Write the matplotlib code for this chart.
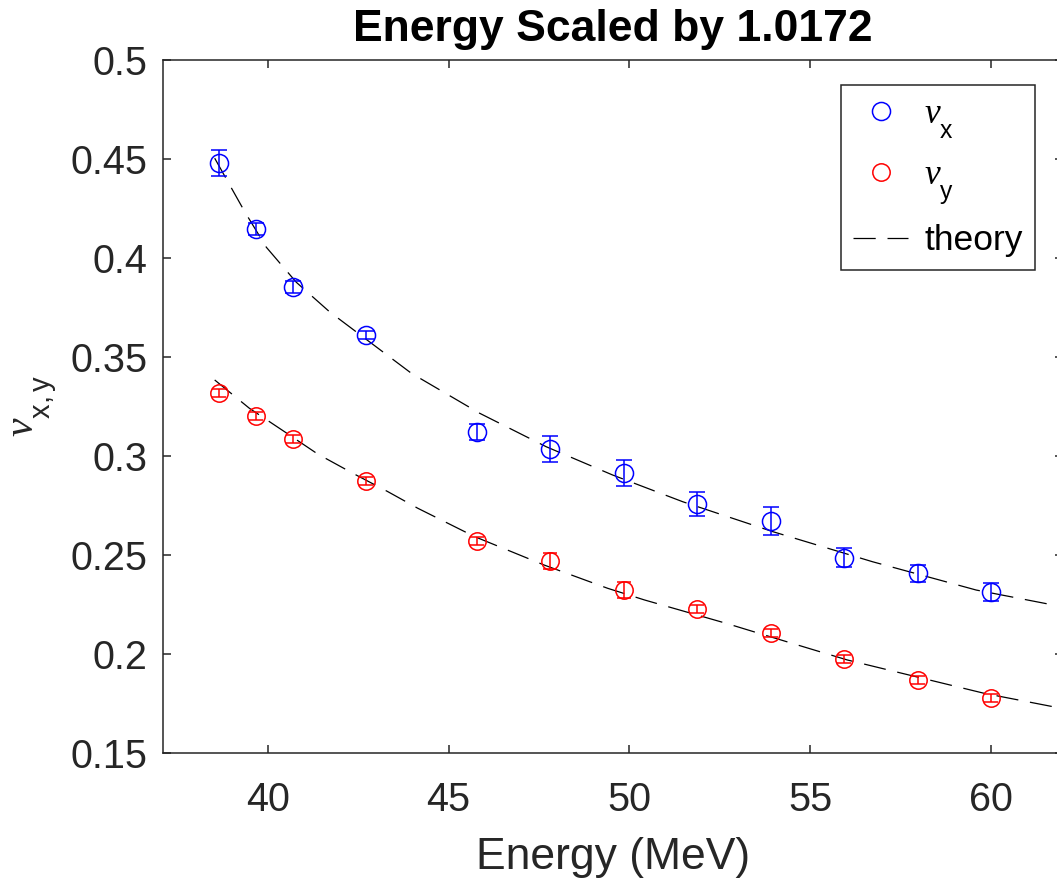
import matplotlib
matplotlib.use('Agg')
import matplotlib.pyplot as plt
from matplotlib import _mathtext

# measured tunes, beam energy scaled by a common factor
scale = 1.0172
energy_raw = [38, 39, 40, 42, 45, 47, 49, 51, 53, 55, 57, 59]
nu_x = [0.448, 0.4146, 0.3854, 0.3612, 0.3121, 0.3035, 0.2916, 0.2758, 0.2672, 0.2486, 0.2409, 0.2313]
nu_x_err = [0.0066, 0.003, 0.003, 0.002, 0.004, 0.0066, 0.0066, 0.006, 0.007, 0.0048, 0.0043, 0.0045]
nu_y = [0.3318, 0.3202, 0.3086, 0.2875, 0.2571, 0.2470, 0.2323, 0.2227, 0.2106, 0.1975, 0.1869, 0.1778]
nu_y_err = [0.0018, 0.002, 0.002, 0.002, 0.002, 0.004, 0.004, 0.002, 0.002, 0.002, 0.002, 0.002]

# model curves
theory_x_energy = [38.53, 39.36, 39.96, 40.79, 41.71, 43.97, 45.86, 47.70, 49.54, 51.48, 53.97, 56.73, 59.60, 61.49, 62.0]
theory_x_nu = [0.4504, 0.4234, 0.4054, 0.3877, 0.3728, 0.3418, 0.3216, 0.3047, 0.2904, 0.2769, 0.2618, 0.2466, 0.2323, 0.2256, 0.2238]
theory_y_energy = [38.53, 39.49, 40.46, 41.38, 42.35, 43.32, 44.15, 45.72, 47.65, 49.40, 50.42, 52.68, 53.65, 55.12, 56.03, 57.94, 59.83, 61.72, 62.0]
theory_y_nu = [0.3384, 0.3241, 0.3123, 0.3010, 0.2913, 0.2820, 0.2736, 0.2593, 0.2449, 0.2332, 0.2273, 0.2155, 0.2101, 0.2020, 0.1970, 0.1885, 0.1801, 0.1734, 0.1724]

energy = [e * scale for e in energy_raw]

plt.rcParams['font.family'] = 'Liberation Sans'
plt.rcParams['mathtext.fontset'] = 'custom'
plt.rcParams['mathtext.rm'] = 'Liberation Sans'
plt.rcParams['mathtext.it'] = 'Liberation Serif:italic'
plt.rcParams['lines.scale_dashes'] = False
# drop subscripts well below the baseline, TeX-interpreter style
_mathtext.FontConstantsBase.sub1 = 0.9

grey = '#262626'

fig = plt.figure(figsize=(10.57, 8.83), dpi=100)
ax = fig.add_axes([163 / 1057, 130 / 883, 900 / 1057, 693 / 883])

dash = (0, (16, 8.5))
ax.plot(theory_x_energy, theory_x_nu, color='k', lw=0.9, linestyle=dash)
ax.plot(theory_y_energy, theory_y_nu, color='k', lw=0.9, linestyle=dash)

ax.errorbar(energy, nu_x, yerr=nu_x_err, fmt='none', ecolor='b', elinewidth=1.1, capsize=6, capthick=1.1)
ax.errorbar(energy, nu_y, yerr=nu_y_err, fmt='none', ecolor='r', elinewidth=1.1, capsize=5, capthick=1.1)
hx, = ax.plot(energy, nu_x, 'o', mfc='none', mec='b', ms=13, mew=1.1)
hy, = ax.plot(energy, nu_y, 'o', mfc='none', mec='r', ms=12.5, mew=1.1)
ht, = ax.plot([], [], color='k', lw=0.9, linestyle=dash)

ax.set_xlim(37.1, 62.0)
ax.set_ylim(0.15, 0.5)
ax.set_xticks([40, 45, 50, 55, 60])
ax.set_yticks([0.15, 0.2, 0.25, 0.3, 0.35, 0.4, 0.45, 0.5])
ax.set_yticklabels(['0.15', '0.2', '0.25', '0.3', '0.35', '0.4', '0.45', '0.5'])

for s in ax.spines.values():
    s.set_color(grey)
    s.set_linewidth(1.1)
ax.tick_params(direction='in', top=True, right=True, length=6, width=1.1,
               colors=grey, labelsize=28.5)
ax.tick_params(axis='x', pad=20)
ax.tick_params(axis='y', pad=11)

ax.set_xlabel('Energy (MeV)', fontsize=32, color=grey, labelpad=13)
ax.set_ylabel(r'$\nu_{\mathrm{x,y}}$', fontsize=30, color=grey, labelpad=9)
ax.set_title('Energy Scaled by 1.0172', fontsize=32, fontweight='bold', pad=14)

leg = ax.legend([hx, hy, ht], [r'$\nu_{\mathrm{x}}$', r'$\nu_{\mathrm{y}}$', 'theory'],
                loc='upper right', bbox_to_anchor=(0.969, 0.964), fontsize=25.5,
                fancybox=False, edgecolor=grey, framealpha=1, borderpad=0.35,
                labelspacing=0.5, handlelength=1.55, handletextpad=0.45, borderaxespad=0)
leg.get_frame().set_linewidth(1.1)

fig.savefig('out.png', dpi=100)
